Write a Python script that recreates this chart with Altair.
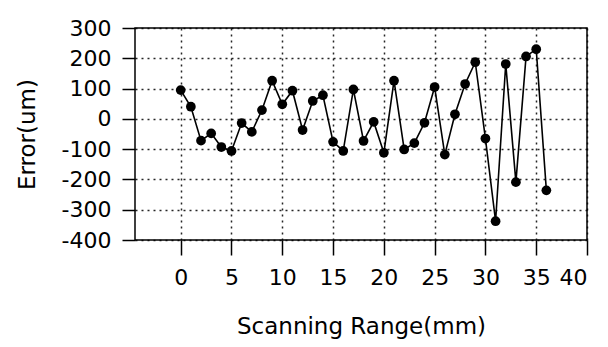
import altair as alt
import pandas as pd

# Data (scan position in mm, error in um)
scan_mm = list(range(37))
error_um = [95, 40, -72, -48, -93, -106, -14, -43, 29, 126,
            48, 93, -37, 59, 78, -76, -106, 97, -73, -10,
            -112, 126, -101, -80, -13, 105, -118, 15, 115, 187,
            -65, -338, 181, -209, 206, 230, -236]
x_ticks = [0, 5, 10, 15, 20, 25, 30, 35, 40]
y_ticks = [-400, -300, -200, -100, 0, 100, 200, 300]

df = pd.DataFrame({"x": scan_mm, "y": error_um})

FONT = "DejaVu Sans"

base = alt.Chart(df).encode(
    x=alt.X(
        "x:Q",
        scale=alt.Scale(domain=[-4.5, 40], nice=False, zero=False),
        axis=alt.Axis(values=x_ticks, title="Scanning Range(mm)",
                      tickSize=15, labelPadding=12, titlePadding=27),
    ),
    y=alt.Y(
        "y:Q",
        scale=alt.Scale(domain=[-400, 300], nice=False, zero=False),
        axis=alt.Axis(values=y_ticks, title="Error(um)",
                      labelExpr="datum.value + ''",
                      tickSize=13, labelPadding=11, titlePadding=22),
    ),
)

line = base.mark_line(color="black", strokeWidth=1.6)
points = base.mark_circle(color="black", size=95, opacity=1)

chart = (
    (line + points)
    .properties(
        width=452,
        height=212,
        autosize=alt.AutoSizeParams(type="none"),
        padding={"left": 127, "top": 20, "right": 13, "bottom": 99},
        background="white",
    )
    .configure_view(stroke="black", strokeWidth=1.5)
    .configure_axis(
        domain=False,
        grid=True,
        gridColor="black",
        gridDash=[2, 4],
        gridWidth=1.5,
        gridOpacity=0.85,
        tickColor="black",
        tickWidth=1.5,
        labelFont=FONT,
        labelFontSize=22,
        labelColor="black",
        titleFont=FONT,
        titleFontSize=23,
        titleFontWeight="normal",
        titleColor="black",
    )
)

chart.save("out.html", embed_options={"renderer": "svg", "actions": False})
